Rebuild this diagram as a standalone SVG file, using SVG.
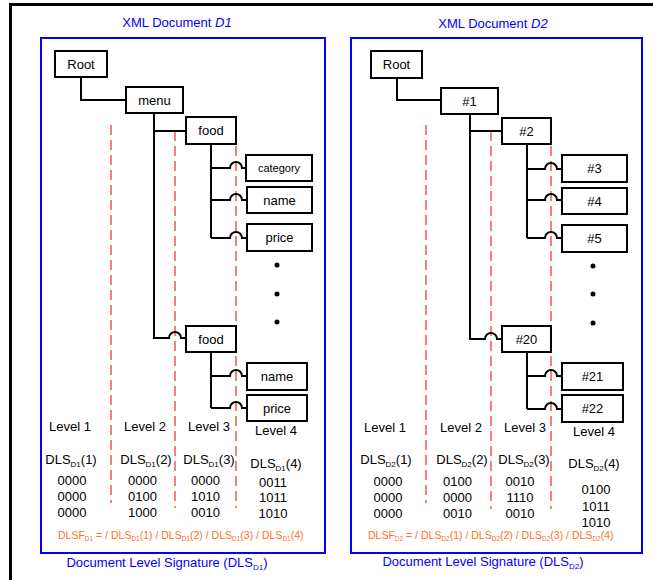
<svg xmlns="http://www.w3.org/2000/svg" width="653" height="580" viewBox="0 0 653 580">
  <style>
    text { font-family: "Liberation Sans", Arial, sans-serif; fill: #000; }
    .node rect { fill: #fff; stroke: #000; stroke-width: 2; }
    .node text { font-size: 13px; text-anchor: middle; }
    .node text.small { font-size: 11px; }
    .doc { fill: none; stroke: #0000ff; stroke-width: 2; }
    .frame { fill: none; stroke: #000; stroke-width: 3; }
    .edge { fill: none; stroke: #000; stroke-width: 2; }
    .level { fill: none; stroke: #f03c3c; stroke-width: 1.3; stroke-dasharray: 10 5; }
    .lbl { font-size: 13px; text-anchor: middle; }
    .title { font-size: 13px; fill: #0000ff; text-anchor: middle; }
    .formula { font-size: 10.5px; fill: #ff7020; }
    .dot { fill: #000; }
  </style>

  <!-- outer frame (left and top edges) -->
  <path class="frame" d="M10.5 580 V4.5 H653"/>

  <!-- ===================== Document D1 ===================== -->
  <text class="title" x="177" y="27">XML Document <tspan font-style="italic">D1</tspan></text>
  <rect class="doc" x="41" y="38" width="284" height="515"/>

  <!-- level separators D1 -->
  <g id="levels-d1">
    <line class="level" x1="111" y1="125" x2="111" y2="503"/>
    <line class="level" x1="175" y1="131" x2="175" y2="508"/>
    <line class="level" x1="236" y1="131" x2="236" y2="508"/>
  </g>

  <!-- connectors D1 -->
  <g id="edges-d1">
    <path class="edge" d="M81 77 V100 H126"/>
    <path class="edge" d="M154 113 V131 H186"/>
    <path class="edge" d="M154 131 V338 H169 A6 6 0 0 1 181 338 H186"/>
    <path class="edge" d="M211 144 V238"/>
    <path class="edge" d="M211 168 H230 A6 6 0 0 1 242 168 H246"/>
    <path class="edge" d="M211 200 H230 A6 6 0 0 1 242 200 H247"/>
    <path class="edge" d="M211 238 H230 A6 6 0 0 1 242 238 H247"/>
    <path class="edge" d="M211 352 V408"/>
    <path class="edge" d="M211 376 H230 A6 6 0 0 1 242 376 H247"/>
    <path class="edge" d="M211 408 H230 A6 6 0 0 1 242 408 H247"/>
  </g>

  <!-- nodes D1 -->
  <g id="d1-root" class="node"><rect x="55" y="51" width="52" height="26"/><text x="81" y="69">Root</text></g>
  <g id="d1-menu" class="node"><rect x="126" y="87" width="57" height="26"/><text x="154.5" y="105">menu</text></g>
  <g id="d1-food1" class="node"><rect x="186" y="117" width="50" height="27"/><text x="211" y="135">food</text></g>
  <g id="d1-category" class="node"><rect x="246" y="155" width="66" height="26"/><text class="small" x="279" y="172">category</text></g>
  <g id="d1-name1" class="node"><rect x="247" y="187" width="65" height="26"/><text x="279.5" y="205">name</text></g>
  <g id="d1-price1" class="node"><rect x="247" y="224" width="65" height="27"/><text x="279.5" y="242">price</text></g>
  <g id="d1-food2" class="node"><rect x="186" y="326" width="50" height="26"/><text x="211" y="344">food</text></g>
  <g id="d1-name2" class="node"><rect x="247" y="363" width="60" height="27"/><text x="277" y="381">name</text></g>
  <g id="d1-price2" class="node"><rect x="247" y="395" width="60" height="26"/><text x="277" y="413">price</text></g>
  <g id="d1-more">
    <circle class="dot" cx="277" cy="265" r="2.5"/>
    <circle class="dot" cx="277" cy="294" r="2.5"/>
    <circle class="dot" cx="277" cy="322" r="2.5"/>
  </g>

  <!-- level signature table D1 -->
  <g id="d1-signature">
    <text class="lbl" x="70" y="431">Level 1</text>
    <text class="lbl" x="145" y="431">Level 2</text>
    <text class="lbl" x="209" y="431">Level 3</text>
    <text class="lbl" x="276" y="435">Level 4</text>

    <text class="lbl" x="71" y="464">DLS<tspan font-size="8" dy="3">D1</tspan><tspan dy="-3">(1)</tspan></text>
    <text class="lbl" x="146" y="464">DLS<tspan font-size="8" dy="3">D1</tspan><tspan dy="-3">(2)</tspan></text>
    <text class="lbl" x="209" y="464">DLS<tspan font-size="8" dy="3">D1</tspan><tspan dy="-3">(3)</tspan></text>
    <text class="lbl" x="276" y="468">DLS<tspan font-size="8" dy="3">D1</tspan><tspan dy="-3">(4)</tspan></text>

    <text class="lbl" x="72" y="485">0000</text>
    <text class="lbl" x="72" y="501">0000</text>
    <text class="lbl" x="72" y="517">0000</text>
    <text class="lbl" x="142.5" y="485">0000</text>
    <text class="lbl" x="142.5" y="501">0100</text>
    <text class="lbl" x="142.5" y="517">1000</text>
    <text class="lbl" x="205.5" y="485">0000</text>
    <text class="lbl" x="205.5" y="501">1010</text>
    <text class="lbl" x="205.5" y="517">0010</text>
    <text class="lbl" x="273" y="487">0011</text>
    <text class="lbl" x="273" y="502">1011</text>
    <text class="lbl" x="273" y="518">1010</text>

    <text class="formula" x="58" y="539">DLSF<tspan font-size="6.5" dy="2">D1</tspan><tspan dy="-2"> = / DLS</tspan><tspan font-size="6.5" dy="2">D1</tspan><tspan dy="-2">(1)  / DLS</tspan><tspan font-size="6.5" dy="2">D1</tspan><tspan dy="-2">(2) / DLS</tspan><tspan font-size="6.5" dy="2">D1</tspan><tspan dy="-2">(3) / DLS</tspan><tspan font-size="6.5" dy="2">D1</tspan><tspan dy="-2">(4)</tspan></text>
  </g>
  <text class="title" x="167" y="567">Document Level Signature (DLS<tspan font-size="8" dy="3">D1</tspan><tspan dy="-3">)</tspan></text>

  <!-- ===================== Document D2 ===================== -->
  <text class="title" x="493" y="28">XML Document <tspan font-style="italic">D2</tspan></text>
  <rect class="doc" x="351" y="38" width="291" height="515"/>

  <!-- level separators D2 -->
  <g id="levels-d2">
    <line class="level" x1="426" y1="125" x2="426" y2="503"/>
    <line class="level" x1="491" y1="131" x2="491" y2="509"/>
    <line class="level" x1="551" y1="131" x2="551" y2="509"/>
  </g>

  <!-- connectors D2 -->
  <g id="edges-d2">
    <path class="edge" d="M397 78 V100 H441"/>
    <path class="edge" d="M470 114 V131 H502"/>
    <path class="edge" d="M470 131 V339 H485 A6 6 0 0 1 497 339 H502"/>
    <path class="edge" d="M527 144 V238"/>
    <path class="edge" d="M527 169 H545 A6 6 0 0 1 557 169 H562"/>
    <path class="edge" d="M527 200 H545 A6 6 0 0 1 557 200 H562"/>
    <path class="edge" d="M527 238 H545 A6 6 0 0 1 557 238 H562"/>
    <path class="edge" d="M527 352 V409"/>
    <path class="edge" d="M527 376 H545 A6 6 0 0 1 557 376 H562"/>
    <path class="edge" d="M527 409 H545 A6 6 0 0 1 557 409 H562"/>
  </g>

  <!-- nodes D2 -->
  <g id="d2-root" class="node"><rect x="371" y="51" width="51" height="27"/><text x="396.5" y="69">Root</text></g>
  <g id="d2-n1" class="node"><rect x="441" y="88" width="57" height="26"/><text x="469.5" y="106">#1</text></g>
  <g id="d2-n2" class="node"><rect x="502" y="118" width="49" height="26"/><text x="526.5" y="136">#2</text></g>
  <g id="d2-n3" class="node"><rect x="562" y="155" width="65" height="27"/><text x="594.5" y="173">#3</text></g>
  <g id="d2-n4" class="node"><rect x="562" y="188" width="65" height="26"/><text x="594.5" y="206">#4</text></g>
  <g id="d2-n5" class="node"><rect x="562" y="225" width="65" height="27"/><text x="594.5" y="243">#5</text></g>
  <g id="d2-n20" class="node"><rect x="502" y="326" width="49" height="26"/><text x="526.5" y="344">#20</text></g>
  <g id="d2-n21" class="node"><rect x="562" y="363" width="61" height="27"/><text x="592.5" y="381">#21</text></g>
  <g id="d2-n22" class="node"><rect x="562" y="395" width="61" height="27"/><text x="592.5" y="413">#22</text></g>
  <g id="d2-more">
    <circle class="dot" cx="593" cy="266" r="2.5"/>
    <circle class="dot" cx="593" cy="294" r="2.5"/>
    <circle class="dot" cx="593" cy="323" r="2.5"/>
  </g>

  <!-- level signature table D2 -->
  <g id="d2-signature">
    <text class="lbl" x="385" y="432">Level 1</text>
    <text class="lbl" x="461" y="432">Level 2</text>
    <text class="lbl" x="525" y="432">Level 3</text>
    <text class="lbl" x="594" y="436">Level 4</text>

    <text class="lbl" x="386" y="464">DLS<tspan font-size="8" dy="3">D2</tspan><tspan dy="-3">(1)</tspan></text>
    <text class="lbl" x="462" y="464">DLS<tspan font-size="8" dy="3">D2</tspan><tspan dy="-3">(2)</tspan></text>
    <text class="lbl" x="524" y="464">DLS<tspan font-size="8" dy="3">D2</tspan><tspan dy="-3">(3)</tspan></text>
    <text class="lbl" x="594" y="468">DLS<tspan font-size="8" dy="3">D2</tspan><tspan dy="-3">(4)</tspan></text>

    <text class="lbl" x="388" y="486">0000</text>
    <text class="lbl" x="388" y="502">0000</text>
    <text class="lbl" x="388" y="518">0000</text>
    <text class="lbl" x="457.5" y="486">0100</text>
    <text class="lbl" x="457.5" y="502">0000</text>
    <text class="lbl" x="457.5" y="518">0010</text>
    <text class="lbl" x="520" y="486">0010</text>
    <text class="lbl" x="520" y="502">1110</text>
    <text class="lbl" x="520" y="518">0010</text>
    <text class="lbl" x="596" y="494">0100</text>
    <text class="lbl" x="596" y="511">1011</text>
    <text class="lbl" x="596" y="527">1010</text>

    <text class="formula" x="368" y="539">DLSF<tspan font-size="6.5" dy="2">D2</tspan><tspan dy="-2"> = / DLS</tspan><tspan font-size="6.5" dy="2">D2</tspan><tspan dy="-2">(1)  / DLS</tspan><tspan font-size="6.5" dy="2">D2</tspan><tspan dy="-2">(2) / DLS</tspan><tspan font-size="6.5" dy="2">D2</tspan><tspan dy="-2">(3) / DLS</tspan><tspan font-size="6.5" dy="2">D2</tspan><tspan dy="-2">(4)</tspan></text>
  </g>
  <text class="title" x="483" y="566">Document Level Signature (DLS<tspan font-size="8" dy="3">D2</tspan><tspan dy="-3">)</tspan></text>
</svg>
